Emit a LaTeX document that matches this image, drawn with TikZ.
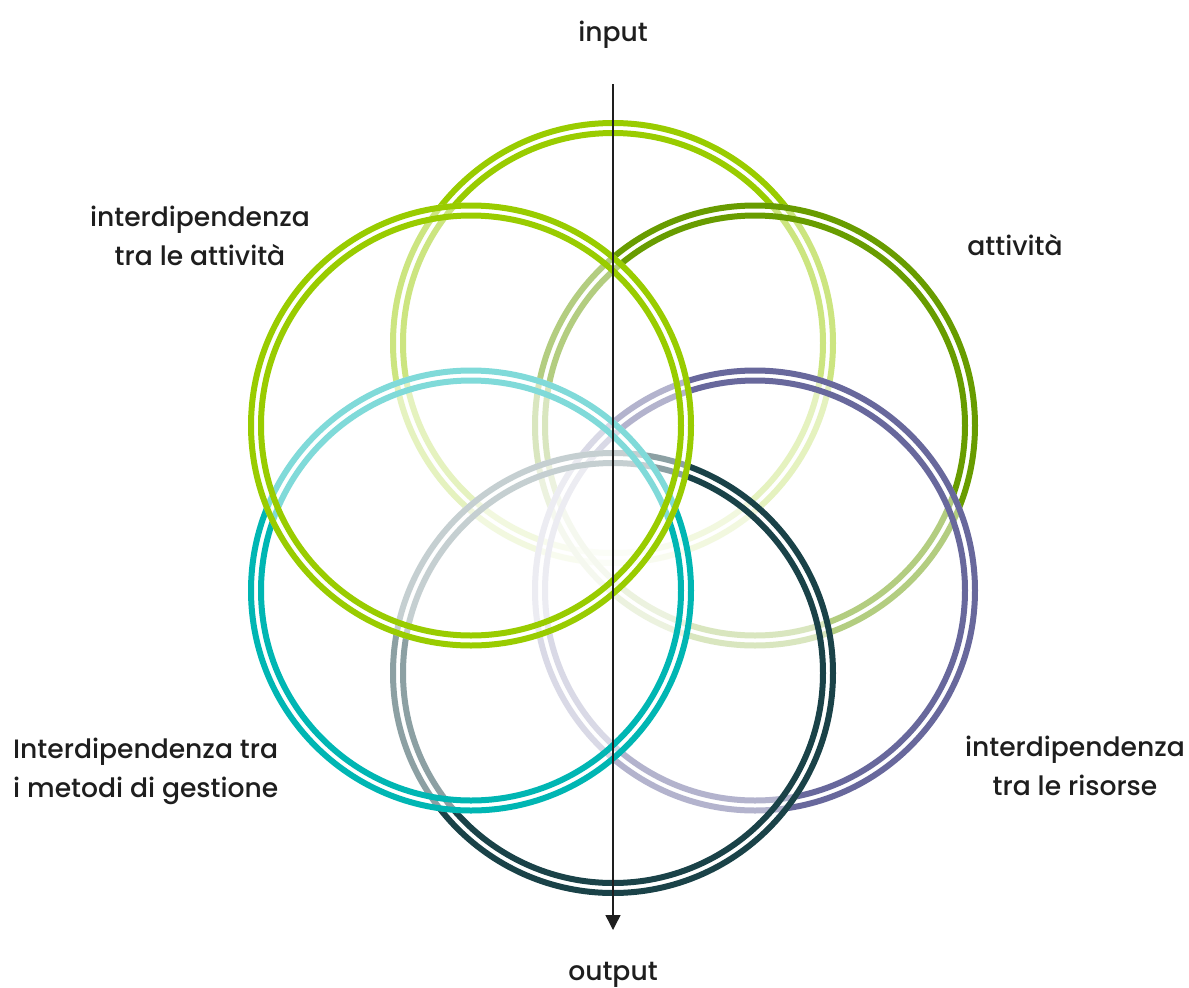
\documentclass[tikz,border=0pt]{standalone}
\usepackage{fontspec}
\setmainfont{Poppins Medium}
\usetikzlibrary{arrows.meta}
\definecolor{ringlime}{HTML}{99CC00}
\definecolor{ringolive}{HTML}{689C00}
\definecolor{ringpurple}{HTML}{68689C}
\definecolor{ringdark}{HTML}{1A4248}
\definecolor{ringteal}{HTML}{00B6B3}
\definecolor{labelink}{HTML}{1E1E1E}
\begin{document}
\begin{tikzpicture}[x=1pt,y=-1pt,
  veil/.style={fill=white, fill opacity=0.5},
  ring/.style={draw=#1, line width=6pt},
  lbl/.style={font=\fontsize{26.6}{38.5}\selectfont, text=labelink, inner sep=0pt},
  flow/.style={draw=labelink, line width=1.4pt, -{Triangle[width=15pt,length=15pt]}}]
\useasboundingbox (0,0) rectangle (1189,988);

% centres of the six rings (regular hexagon around the middle)
\coordinate (ctop) at (613,343);
\coordinate (ctr)  at (755,425.5);
\coordinate (cbr)  at (755,590.5);
\coordinate (cbot) at (613,673);
\coordinate (cbl)  at (471,590.5);
\coordinate (ctl)  at (471,425.5);

% each ring veils the rings drawn before it, then gets its double outline
\foreach \c/\col in {ctop/ringlime, ctr/ringolive, cbr/ringpurple, cbot/ringdark, cbl/ringteal, ctl/ringlime}{
  \fill[veil] (\c) circle[radius=223pt];
  \draw[ring=\col] (\c) circle[radius=220pt];
  \draw[ring=\col] (\c) circle[radius=210pt];
}

% flow axis
\coordinate (src) at (613,84);
\coordinate (dst) at (613,930);
\draw[flow] (src) -- (dst);

% labels (base anchor = baseline of the last line)
\node[lbl, anchor=base] (lin) at (613,41) {input};
\node[lbl, anchor=base] (lout) at (613,980) {output};
\node[lbl, anchor=base, align=center] (lact) at (200,265) {interdipendenza\\tra le attività};
\node[lbl, anchor=base] (latt) at (1015,255) {attività};
\node[lbl, anchor=base west, align=left] (lmet) at (13,797) {Interdipendenza tra\\i metodi di gestione};
\node[lbl, anchor=base, align=center] (lris) at (1075,795) {interdipendenza\\tra le risorse};
\end{tikzpicture}
\end{document}
